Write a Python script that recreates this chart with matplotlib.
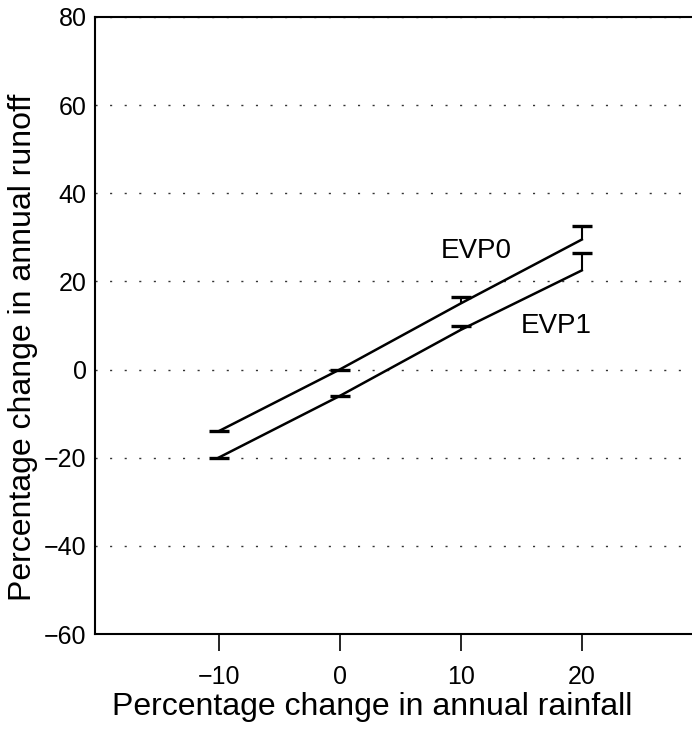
import matplotlib
matplotlib.use('Agg')
import matplotlib.pyplot as plt

rain_change = [-10, 0, 10, 20]
evp0 = [-14, 0, 15, 29.5]
evp1 = [-20, -6, 9, 22.5]
evp0_err = [0, 0, 1.5, 3]
evp1_err = [0, 0, 1, 4]

x_ticks = [-10, 0, 10, 20]
y_ticks = [-60, -40, -20, 0, 20, 40, 60, 80]

tick_font = ['Liberation Sans Narrow', 'Liberation Sans', 'DejaVu Sans']
label_font = ['Liberation Sans', 'DejaVu Sans']

fig = plt.figure(figsize=(6.92, 7.31), dpi=100)
ax = fig.add_axes([95 / 692, 97 / 731, 1 - 95 / 692, 617 / 731])

# lines with one-sided (upper) error bars, caps only at the top
for y, err in [(evp0, evp0_err), (evp1, evp1_err)]:
    top = [v + e for v, e in zip(y, err)]
    ax.plot(rain_change, y, color='black', linewidth=1.8)
    ax.vlines(rain_change, y, top, color='black', linewidth=1.5)
    ax.plot(rain_change, top, linestyle='none', marker='_', markersize=15,
            markeredgewidth=2.4, color='black')

ax.text(11.3, 27, 'EVP0', fontsize=20, family=label_font, ha='center', va='center')
ax.text(17.9, 10, 'EVP1', fontsize=20, family=label_font, ha='center', va='center')

ax.set_xlim(-20.2, 29.1)
ax.set_ylim(-60, 80)
ax.set_xticks(x_ticks)
ax.set_yticks(y_ticks)
ax.set_xticklabels([str(v).replace('-', '\u2212') for v in x_ticks], family=tick_font, fontsize=18)
ax.set_yticklabels([str(v).replace('-', '\u2212') for v in y_ticks], family=tick_font, fontsize=18)
ax.tick_params(axis='x', direction='out', length=12, width=1.2, pad=10)
ax.tick_params(axis='y', length=0, pad=6)

ax.yaxis.grid(True, linestyle=(0, (1.5, 9)), linewidth=1.0, color='#333333')
ax.set_axisbelow(True)

ax.spines['right'].set_visible(False)
for s in ['left', 'top', 'bottom']:
    ax.spines[s].set_linewidth(1.5)

ax.set_xlabel('Percentage change in annual rainfall', fontsize=23, family=label_font)
ax.set_ylabel('Percentage change in annual runoff', fontsize=23, family=label_font)
ax.xaxis.set_label_coords((372 - 95) / 597, (634 - 692) / 617)
ax.yaxis.set_label_coords((38 - 95) / 597, (634 - 347) / 617)

fig.savefig('out.png', dpi=100)
